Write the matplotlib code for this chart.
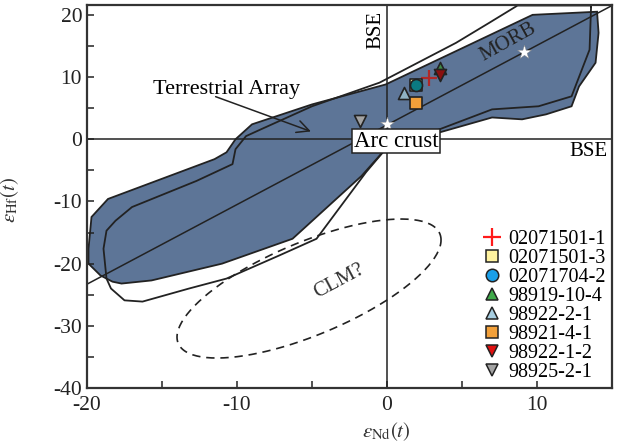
import numpy as np
import matplotlib
matplotlib.use('Agg')
import matplotlib.pyplot as plt
from matplotlib.lines import Line2D

plt.rcParams['font.family'] = ['Liberation Serif', 'DejaVu Serif']
plt.rcParams['mathtext.fontset'] = 'stix'
plt.rcParams['axes.unicode_minus'] = False

# --- data ---
# filled (blue) Terrestrial-array envelope
field_x = [-18.6, -11.5, -10.7, -10.1, -9.0, -5.0, -0.1, 9.7, 14.0, 14.1, 13.9, 12.8,
           12.3, 10.6, 9.0, 7.0, 0.0, -1.7, -6.3, -11.0, -15.7, -17.7, -18.3, -19.1,
           -19.9, -19.9, -19.7]
field_y = [-9.6, -3.2, -2.1, 0.0, 2.4, 5.6, 8.8, 20.0, 20.5, 17.1, 12.3, 8.5,
           5.3, 4.0, 3.2, 3.5, -1.3, -5.9, -16.0, -20.0, -22.7, -23.2, -22.9, -21.9,
           -20.0, -17.6, -12.5]

# outline envelope (line only)
outline_x = [13.6, 13.6, 8.7, 6.8, 4.6, -0.5, -5.0, -8.4, -9.4, -10.1, -10.3, -12.7,
             -17.0, -18.1, -18.7, -18.9, -18.7, -18.4, -17.5, -16.3, -13.2, -10.7,
             -7.2, -4.7, -1.4, -0.1, 3.5, 7.0, 10.1, 12.3, 13.5, 13.6]
outline_y = [21.3, 21.5, 21.5, 18.7, 15.5, 9.1, 5.3, 1.6, 0.5, -1.6, -4.0, -6.7,
             -10.9, -13.1, -14.7, -17.6, -22.4, -24.0, -25.9, -26.1, -24.0, -22.4,
             -18.7, -16.0, -5.3, -1.6, 1.6, 4.8, 5.3, 6.9, 14.4, 21.3]

# terrestrial array regression line
array_x = [-20, 15]
array_slope = 1.28
array_icpt = 2.3

# CLM field (dashed ellipse): centre and two conjugate half-axis vectors (data units)
clm_centre = (-5.2, -24.0)
clm_major = (8.8, 7.8)
clm_minor = (0.0, 8.0)

# reference stars (Arc crust, MORB)
star_x = [0.0, 9.1]
star_y = [2.4, 14.1]

# samples
samples = ['02071501-1', '02071501-3', '02071704-2', '98919-10-4',
           '98922-2-1', '98921-4-1', '98922-1-2', '98925-2-1']
end_x = [2.8, 1.9, 1.9, 3.5, 1.1, 1.9, 3.5, -1.8]
ehf_y = [9.8, 8.8, 8.8, 11.5, 7.5, 5.9, 10.4, 2.9]

markers = ['+', 's', 'o', '^', '^', 's', 'v', 'v']
plot_colors = ['#b02828', '#fff3a0', '#0b7a82', '#3f8a45', '#8fb2c4', '#f2a03a', '#8a1010', '#a3a3a3']
legend_colors = ['#ff1a1a', '#fff3a0', '#1a9fe8', '#3faa4a', '#a8cfe2', '#f2a03a', '#e01010', '#a3a3a3']

fig = plt.figure(figsize=(6.17, 4.44), dpi=100)
ax = fig.add_axes([0.141, 0.126, 0.851, 0.863])

ax.fill(field_x, field_y, facecolor='#5d7597', edgecolor='#222222', lw=1.3, zorder=1)
ax.plot(outline_x, outline_y, color='#222222', lw=1.3, zorder=2)

ax.axhline(0, color='#222222', lw=1.1, zorder=2)
ax.axvline(0, color='#222222', lw=1.1, zorder=2)

ax_arr = np.array(array_x, dtype=float)
ax.plot(ax_arr, array_slope * ax_arr + array_icpt, color='#222222', lw=1.1, zorder=2)

t = np.linspace(0, 2 * np.pi, 200)
ex = clm_centre[0] + clm_major[0] * np.cos(t) + clm_minor[0] * np.sin(t)
ey = clm_centre[1] + clm_major[1] * np.cos(t) + clm_minor[1] * np.sin(t)
ax.plot(ex, ey, color='#222222', lw=1.2, ls=(0, (5, 3.5)), zorder=2)

ax.scatter(star_x, star_y, marker='*', s=110, c='white', edgecolors='#888888',
           linewidths=0.3, zorder=5)

for i in range(len(samples)):
    if markers[i] == '+':
        ax.scatter(end_x[i], ehf_y[i], marker='+', s=140, c=plot_colors[i],
                   linewidths=1.6, zorder=6)
    else:
        ax.scatter(end_x[i], ehf_y[i], marker=markers[i], s=75, c=plot_colors[i],
                   edgecolors='#222222', linewidths=1.2, zorder=6)

# legend proxies
handles = []
for i in range(len(samples)):
    if markers[i] == '+':
        h = Line2D([], [], ls='none', marker='+', color=legend_colors[i], ms=13, mew=1.6)
    else:
        h = Line2D([], [], ls='none', marker=markers[i], markerfacecolor=legend_colors[i],
                   markeredgecolor='#222222', ms=9, mew=1.1)
    handles.append(h)
ax.legend(handles, samples, loc='lower left', bbox_to_anchor=(0.715, -0.022), frameon=False,
          fontsize=14.5, handletextpad=0.1, labelspacing=0.0, borderaxespad=0.3,
          handlelength=1.5)

# annotations
ax.text(-0.75, 17.6, 'BSE', rotation=90, ha='center', va='center', fontsize=15)
ax.text(13.4, -2.0, 'BSE', ha='center', va='center', fontsize=15)
ax.text(-10.7, 8.0, 'Terrestrial Array', ha='center', va='center', fontsize=16)
ax.annotate('', xy=(-4.9, 1.1), xytext=(-11.6, 7.0),
            arrowprops=dict(arrowstyle='->', color='#222222', lw=1.1, mutation_scale=22))
ax.text(0.6, -0.3, 'Arc crust', ha='center', va='center', fontsize=16.5, zorder=7,
        bbox=dict(boxstyle='square,pad=0.08', fc='white', ec='#222222', lw=1.1))
ax.text(8.1, 15.6, 'MORB', rotation=29, ha='center', va='center', fontsize=15,
        color='#222222')
ax.text(-3.2, -22.8, 'CLM?', rotation=28, ha='center', va='center', fontsize=15,
        color='#333333')

ax.set_xlim(-20, 15)
ax.set_ylim(-40, 21.6)
ax.set_xticks([-20, -10, 0, 10])
ax.set_xticks([-15, -5, 5], minor=True)
ax.set_yticks([-40, -30, -20, -10, 0, 10, 20])
ax.set_yticks([-35, -25, -15, -5, 5, 15], minor=True)
ax.tick_params(which='both', direction='in', length=5, width=1.1, labelsize=15.5,
               colors='#222222')
ax.tick_params(axis='x', pad=6)
for s in ax.spines.values():
    s.set_linewidth(1.6)
    s.set_color('#333333')

ax.set_xlabel(r'$\varepsilon_{\rm Nd}(t)$', fontsize=15, color='#333333')
ax.set_ylabel(r'$\varepsilon_{\rm Hf}(t)$', fontsize=15, color='#333333')
ax.xaxis.set_label_coords(0.571, -0.085)
ax.yaxis.set_label_coords(-0.125, 0.49)

fig.savefig('out.png', dpi=100)
